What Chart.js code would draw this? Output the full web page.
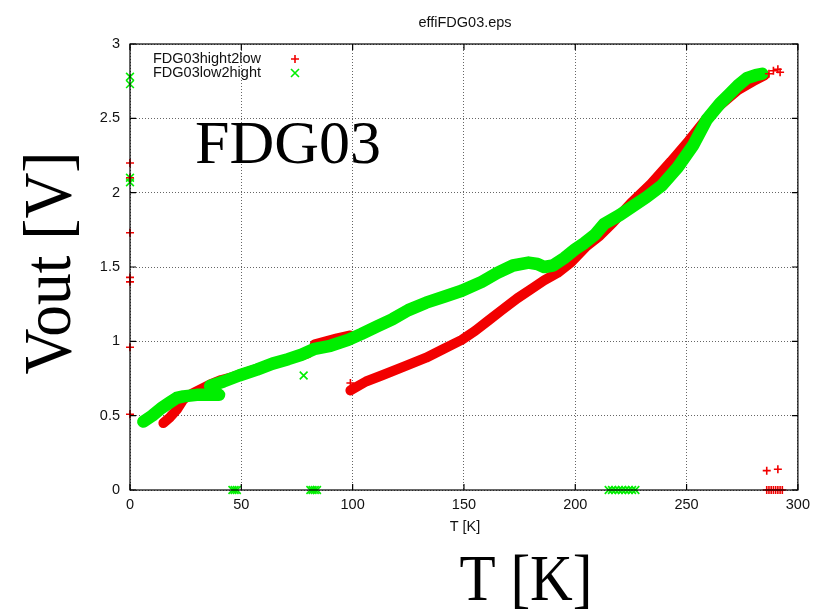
<!DOCTYPE html>
<html>
<head>
<meta charset="utf-8">
<script src="https://cdn.jsdelivr.net/npm/chart.js@4.4.0/dist/chart.umd.min.js"></script>
<style>
  html, body { margin: 0; padding: 0; background: #fff; }
  canvas { display: block; }
</style>
</head>
<body>
<canvas id="chart" width="816" height="610"></canvas>
<script>
// FDG03hight2low (red +) in segments
const redLowT = [15, 18, 21, 24, 28, 32, 36, 41, 46, 52, 58, 64, 70, 76, 80];
const redLowV = [0.45, 0.49, 0.54, 0.61, 0.65, 0.68, 0.71, 0.74, 0.76, 0.79, 0.82, 0.85, 0.88, 0.90, 0.92];
const redMidT = [83, 88, 93, 99];
const redMidV = [0.98, 1.0, 1.02, 1.04];
const redMainT = [99, 106, 113, 123, 133, 141, 149, 155, 161, 167, 174, 180, 186, 192, 198, 205, 211, 217, 225, 234, 243, 251, 259, 266, 273, 280, 285];
const redMainV = [0.67, 0.73, 0.77, 0.83, 0.89, 0.95, 1.01, 1.07, 1.14, 1.21, 1.29, 1.35, 1.41, 1.46, 1.53, 1.64, 1.71, 1.80, 1.93, 2.06, 2.21, 2.35, 2.50, 2.60, 2.69, 2.75, 2.79];
const redOutT = [0, 0, 0, 0, 0, 0, 0, 99, 286, 291, 286, 287, 288, 289, 290, 291, 292, 293, 287, 289, 291, 292];
const redOutV = [2.20, 2.10, 1.73, 1.43, 1.40, 0.96, 0.51, 0.72, 0.13, 0.14, 0, 0, 0, 0, 0, 0, 0, 0, 2.80, 2.82, 2.83, 2.81];

// FDG03low2hight (green x)
const greenLowT = [6, 10, 14, 18, 21, 24, 30, 35, 40];
const greenLowV = [0.46, 0.50, 0.55, 0.59, 0.62, 0.63, 0.64, 0.64, 0.64];
const greenMainT = [36, 42, 49, 57, 64, 71, 77, 83, 90, 98, 104, 111, 118, 125, 133, 141, 149, 158, 165, 172, 179, 183, 186, 190, 195, 200, 204, 209, 213, 220, 226, 232, 239, 246, 253, 259, 265, 269, 273, 277, 281, 284];
const greenMainV = [0.70, 0.73, 0.77, 0.81, 0.85, 0.88, 0.91, 0.95, 0.97, 1.01, 1.05, 1.10, 1.15, 1.21, 1.26, 1.30, 1.34, 1.40, 1.46, 1.51, 1.53, 1.52, 1.50, 1.51, 1.56, 1.62, 1.66, 1.72, 1.79, 1.85, 1.91, 1.97, 2.05, 2.17, 2.32, 2.49, 2.60, 2.66, 2.72, 2.77, 2.79, 2.80];
const greenOutT = [0, 0, 0, 0, 78, 46, 47, 48, 81, 82, 83, 84, 215, 216.5, 218, 219.5, 221, 222.5, 224, 225.5, 227];
const greenOutV = [2.78, 2.73, 2.10, 2.07, 0.77, 0, 0, 0, 0, 0, 0, 0, 0, 0, 0, 0, 0, 0, 0, 0, 0];

const xTicks = [0, 50, 100, 150, 200, 250, 300];
const yTicks = [0, 0.5, 1, 1.5, 2, 2.5, 3];

const RED = '#f20000';
const GREEN = '#00ee00';
const SANS = '"Liberation Sans", Arial, sans-serif';
const SERIF = '"Liberation Serif", "Times New Roman", serif';

const pts = (xs, ys) => xs.map((x, i) => ({ x: x, y: ys[i] }));

function band(xs, ys, color, width, order) {
  return {
    data: pts(xs, ys),
    showLine: true,
    borderColor: color,
    borderWidth: width,
    borderJoinStyle: 'round',
    borderCapStyle: 'round',
    pointRadius: 0,
    clip: false,
    order: order,
  };
}

function marks(xs, ys, color, style, radius) {
  return {
    data: pts(xs, ys),
    showLine: false,
    pointStyle: style,
    pointRadius: radius,
    pointBorderColor: color,
    pointBackgroundColor: color,
    pointBorderWidth: 1.6,
    clip: false,
    order: 0,
  };
}

// frame, inward ticks and all the free text
const decor = {
  id: 'decor',
  afterDatasetsDraw(chart) {
    const { ctx, chartArea: a, scales } = chart;
    ctx.save();
    ctx.strokeStyle = '#000';
    ctx.lineWidth = 1.2;
    ctx.strokeRect(a.left, a.top, a.right - a.left, a.bottom - a.top);
    ctx.beginPath();
    xTicks.forEach(v => {
      const x = scales.x.getPixelForValue(v);
      ctx.moveTo(x, a.bottom); ctx.lineTo(x, a.bottom - 6);
      ctx.moveTo(x, a.top); ctx.lineTo(x, a.top + 6);
    });
    yTicks.forEach(v => {
      const y = scales.y.getPixelForValue(v);
      ctx.moveTo(a.left, y); ctx.lineTo(a.left + 6, y);
      ctx.moveTo(a.right, y); ctx.lineTo(a.right - 6, y);
    });
    ctx.stroke();
    ctx.restore();
  },
  afterDraw(chart) {
    const { ctx } = chart;
    ctx.save();
    ctx.fillStyle = '#111';
    ctx.font = '14.5px ' + SANS;
    ctx.textAlign = 'center';
    ctx.textBaseline = 'middle';
    ctx.fillText('effiFDG03.eps', 465, 23);
    ctx.fillText('T [K]', 465, 527);

    // legend, text left and marker right like gnuplot
    ctx.textAlign = 'left';
    ctx.fillText('FDG03hight2low', 153, 59);
    ctx.fillText('FDG03low2hight', 153, 73);
    ctx.lineWidth = 1.6;
    ctx.strokeStyle = RED;
    ctx.beginPath();
    ctx.moveTo(291, 59); ctx.lineTo(299, 59);
    ctx.moveTo(295, 55); ctx.lineTo(295, 63);
    ctx.stroke();
    ctx.strokeStyle = GREEN;
    ctx.beginPath();
    ctx.moveTo(291, 69); ctx.lineTo(299, 77);
    ctx.moveTo(299, 69); ctx.lineTo(291, 77);
    ctx.stroke();

    // big serif labels
    ctx.fillStyle = '#000';
    ctx.textBaseline = 'alphabetic';
    ctx.font = '62px ' + SERIF;
    ctx.fillText('FDG03', 195, 163);

    ctx.font = '65px ' + SERIF;
    let w = ctx.measureText('T [K]').width;
    ctx.save();
    ctx.translate(526, 600);
    ctx.scale(133 / w, 1);
    ctx.textAlign = 'center';
    ctx.fillText('T [K]', 0, 0);
    ctx.restore();

    ctx.font = '67px ' + SERIF;
    w = ctx.measureText('Vout [V]').width;
    ctx.save();
    ctx.translate(70, 263);
    ctx.rotate(-Math.PI / 2);
    ctx.scale(223 / w, 1);
    ctx.textAlign = 'center';
    ctx.fillText('Vout [V]', 0, 0);
    ctx.restore();
    ctx.restore();
  }
};

const tickFont = { family: SANS, size: 14.5 };

new Chart(document.getElementById('chart'), {
  type: 'scatter',
  data: {
    datasets: [
      marks(redOutT, redOutV, RED, 'cross', 4),
      marks(greenOutT, greenOutV, GREEN, 'crossRot', 5.5),
      band(greenLowT, greenLowV, GREEN, 12.5, 1),
      band(greenMainT, greenMainV, GREEN, 12.5, 1),
      band(redLowT, redLowV, RED, 10, 2),
      band(redMidT, redMidV, RED, 10, 2),
      band(redMainT, redMainV, RED, 10, 2),
    ],
  },
  options: {
    responsive: false,
    animation: false,
    layout: { padding: { top: 44, right: 16, bottom: 0, left: 0 } },
    plugins: { legend: { display: false }, tooltip: { enabled: false } },
    scales: {
      x: {
        type: 'linear', min: 0, max: 300,
        afterBuildTicks: s => { s.ticks = xTicks.map(v => ({ value: v })); },
        afterFit: s => { s.height = 120; },
        ticks: { padding: 6, color: '#111', font: tickFont, maxRotation: 0, callback: v => String(v) },
        grid: { color: '#666', lineWidth: 1, drawTicks: false },
        border: { display: false, dash: [1, 2] },
      },
      y: {
        type: 'linear', min: 0, max: 3,
        afterBuildTicks: s => { s.ticks = yTicks.map(v => ({ value: v })); },
        afterFit: s => { s.width = 130; },
        ticks: { padding: 10, color: '#111', font: tickFont, callback: v => String(v) },
        grid: { color: '#666', lineWidth: 1, drawTicks: false },
        border: { display: false, dash: [1, 2] },
      },
    },
  },
  plugins: [decor],
});
</script>
</body>
</html>
